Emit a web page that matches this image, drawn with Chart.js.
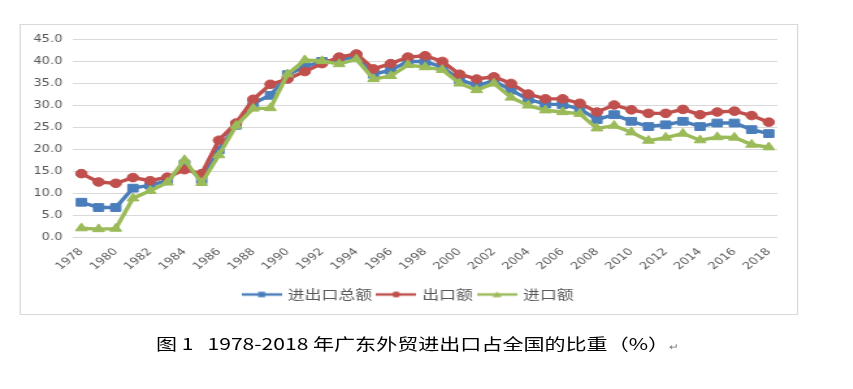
<!DOCTYPE html>
<html>
<head>
<meta charset="utf-8">
<script src="https://cdn.jsdelivr.net/npm/chart.js@4.4.1/dist/chart.umd.min.js"></script>
<style>
  html, body { margin: 0; padding: 0; background: #fff; width: 853px; height: 389px; overflow: hidden; }
  #stage { position: absolute; left: 0; top: 0; width: 656px; height: 389px; transform: scaleX(1.3); transform-origin: 0 0; }
  #frame { position: absolute; left: 15px; top: 24px; width: 597px; height: 289px; border: 1px solid #d9d9d9; }
  #chart { position: absolute; left: 0; top: 0; }
  #caption { position: absolute; left: 120px; top: 333px; font-family: "Noto Sans CJK SC", sans-serif; font-size: 16.2px; font-weight: 400; line-height: 20px; color: #000; white-space: pre; }
  #caption .pm { font-size: 9px; font-weight: 400; color: #777; }
</style>
</head>
<body>
<div id="stage">
  <div id="frame"><canvas id="chart" width="597" height="289"></canvas></div>
  <div id="caption">图 1   1978-2018 年广东外贸进出口占全国的比重（%）<span class="pm">↵</span></div>
</div>
<script>
const years = ["1978","1979","1980","1981","1982","1983","1984","1985","1986","1987",
  "1988","1989","1990","1991","1992","1993","1994","1995","1996","1997",
  "1998","1999","2000","2001","2002","2003","2004","2005","2006","2007",
  "2008","2009","2010","2011","2012","2013","2014","2015","2016","2017","2018"];
const seriesNames = ["进出口总额", "出口额", "进口额"];
const totalShare = [7.9,6.7,6.7,11.1,11.8,12.8,16.6,13.0,19.8,25.4,
  30.4,32.2,36.9,38.7,39.9,40.2,41.0,37.0,37.9,39.9,
  39.9,38.6,35.8,34.4,35.5,33.4,31.3,30.2,30.1,29.1,
  26.7,27.8,26.3,25.1,25.5,26.3,25.1,25.9,25.9,24.4,23.5];
const exportShare = [14.4,12.5,12.2,13.5,12.8,13.6,15.3,14.4,22.0,25.9,
  31.3,34.7,35.9,37.6,39.4,40.9,41.6,38.2,39.4,40.9,
  41.2,39.9,37.0,35.9,36.4,34.9,32.5,31.4,31.4,30.4,
  28.4,30.0,28.9,28.1,28.1,29.0,27.8,28.4,28.6,27.6,26.1];
const importShare = [2.0,1.8,1.9,8.8,10.5,12.4,17.5,12.3,18.6,25.3,
  29.2,29.3,37.0,40.2,40.0,39.3,40.4,35.9,36.6,39.1,
  38.6,38.0,34.9,33.4,34.9,31.7,29.9,28.8,28.4,28.0,
  24.7,25.3,23.8,21.9,22.6,23.5,22.0,22.7,22.6,21.0,20.4];
const yTicks = [0,5,10,15,20,25,30,35,40,45];

const colors = ["#4a7ebb", "#c0504d", "#9bbb59"];
const styles = ["rect", "circle", "triangle"];

function legendIcon(color, style) {
  const c = document.createElement("canvas");
  c.width = 31; c.height = 12;
  const g = c.getContext("2d");
  g.strokeStyle = color; g.lineWidth = 2.5;
  g.beginPath(); g.moveTo(0, 6); g.lineTo(31, 6); g.stroke();
  g.fillStyle = color;
  g.beginPath();
  if (style === "rect") { g.rect(12.8, 3.3, 5.4, 5.4); }
  else if (style === "circle") { g.arc(15.5, 6, 3, 0, Math.PI * 2); }
  else { g.moveTo(15.5, 3); g.lineTo(19, 8.8); g.lineTo(12, 8.8); g.closePath(); }
  g.fill();
  return c;
}
const icons = colors.map((c, i) => legendIcon(c, styles[i]));

const seriesData = [totalShare, exportShare, importShare];
const datasets = seriesData.map((d, i) => ({
  label: seriesNames[i],
  data: d,
  borderColor: colors[i],
  backgroundColor: colors[i],
  borderWidth: 3.4,
  pointStyle: styles[i],
  pointRadius: [5.5, 4.3, 5.2][i],
  pointBorderWidth: 1,
  pointBackgroundColor: colors[i],
  pointBorderColor: colors[i],
  tension: 0,
  order: 3 - i
}));

new Chart(document.getElementById("chart"), {
  type: "line",
  data: { labels: years, datasets },
  options: {
    responsive: false,
    animation: false,
    devicePixelRatio: 1,
    layout: { padding: { left: 0, right: 0, top: 14, bottom: 3 } },
    plugins: {
      tooltip: { enabled: false },
      legend: {
        position: "bottom",
        labels: {
          usePointStyle: true,
          pointStyleWidth: 27,
          padding: 5,
          color: "#595959",
          font: { family: "'Noto Sans CJK SC', sans-serif", size: 13 },
          generateLabels: (chart) => chart.data.datasets.map((ds, i) => ({
            text: ds.label,
            fillStyle: colors[i],
            strokeStyle: colors[i],
            lineWidth: 0,
            pointStyle: icons[i],
            hidden: false,
            datasetIndex: i,
            fontColor: "#595959"
          }))
        }
      }
    },
    scales: {
      x: {
        offset: true,
        grid: { display: false, drawTicks: false },
        border: { display: false },
        afterFit: (s) => { s.height = 46; },
        ticks: {
          autoSkip: false,
          minRotation: 45,
          maxRotation: 45,
          padding: 9,
          color: "#595959",
          font: { family: "'DejaVu Sans', sans-serif", size: 10 },
          callback: function (v, i) { return i % 2 === 0 ? this.getLabelForValue(v) : ""; }
        }
      },
      y: {
        min: 0,
        max: 45,
        afterFit: (s) => { s.width = 40; },
        afterBuildTicks: (s) => { s.ticks = yTicks.map(v => ({ value: v })); },
        grid: { color: "#d9d9d9", lineWidth: 1, drawTicks: false },
        border: { display: false },
        ticks: {
          padding: 8,
          color: "#595959",
          font: { family: "'DejaVu Sans', sans-serif", size: 10 },
          callback: (v) => Number(v).toFixed(1)
        }
      },
      yRight: {
        position: "right",
        min: 0,
        max: 45,
        afterFit: (s) => { s.width = 15; },
        grid: { display: false, drawTicks: false },
        border: { display: false },
        ticks: { display: false }
      }
    }
  }
});
</script>
</body>
</html>
